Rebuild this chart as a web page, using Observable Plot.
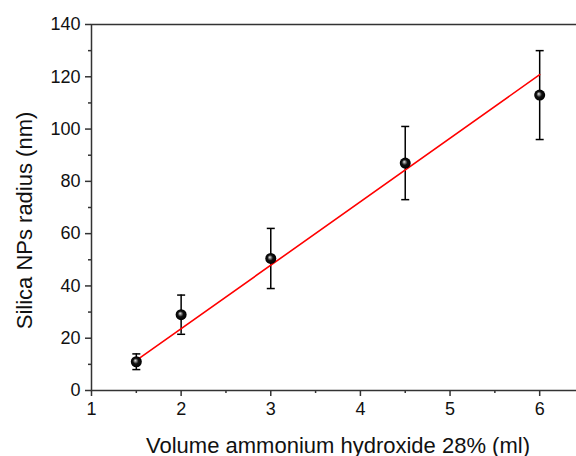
<!DOCTYPE html>
<html>
<head>
<meta charset="utf-8">
<script src="https://cdn.jsdelivr.net/npm/d3@7"></script>
<script src="https://cdn.jsdelivr.net/npm/@observablehq/plot@0.6"></script>
<style>
  html, body { margin: 0; padding: 0; background: #fff; overflow: hidden; }
  #chart svg { display: block; }
</style>
</head>
<body>
<div id="chart"></div>
<script>
// Data
const volume = [1.5, 2, 3, 4.5, 6];          // ml ammonium hydroxide 28%
const radius = [11, 29, 50.5, 87, 113];      // nm
const radiusErr = [3, 7.5, 11.5, 14, 17];    // nm (± error)
const fitX = [1.5, 6];                        // linear fit endpoints
const fitY = [11.5, 120.8];
const xMajorTicks = [1, 2, 3, 4, 5, 6];
const xMinorTicks = [1.5, 2.5, 3.5, 4.5, 5.5, 6.5];
const yMajorTicks = [0, 20, 40, 60, 80, 100, 120, 140];
const yMinorTicks = [10, 30, 50, 70, 90, 110, 130];

const points = volume.map((v, i) => ({x: v, y: radius[i], lo: radius[i] - radiusErr[i], hi: radius[i] + radiusErr[i]}));
const fit = fitX.map((v, i) => ({x: v, y: fitY[i]}));

const capSymbol = {
  draw(context, size) {
    const r = Math.sqrt(size / Math.PI);
    context.moveTo(-r, 0);
    context.lineTo(r, 0);
  }
};

const font = "'Liberation Sans', Arial, Helvetica, sans-serif";
const axisColor = "#333";

const chart = Plot.plot({
  width: 576,
  height: 456,
  marginLeft: 91,
  marginRight: -8,
  marginTop: 24,
  marginBottom: 66,
  style: {fontFamily: font, fontSize: "18px", color: "#111", background: "#fff"},
  x: {domain: [1, 6.5]},
  y: {domain: [0, 140]},
  marks: [
    Plot.axisX({ticks: xMinorTicks, tickSize: 3, text: null, label: null, stroke: axisColor, strokeWidth: 1.5}),
    Plot.axisX({ticks: xMajorTicks, tickSize: 6, tickPadding: 6, tickFormat: d => String(d), label: null, stroke: axisColor, strokeWidth: 1.5, fontSize: 18, fill: "#111"}),
    Plot.axisY({ticks: yMinorTicks, tickSize: 3, text: null, label: null, stroke: axisColor, strokeWidth: 1.5}),
    Plot.axisY({ticks: yMajorTicks, tickSize: 6, tickPadding: 5, tickFormat: d => String(d), label: null, stroke: axisColor, strokeWidth: 1.5, fontSize: 18, fill: "#111"}),
    Plot.frame({stroke: axisColor, strokeWidth: 1.5}),
    Plot.ruleX(points, {x: "x", y1: "lo", y2: "hi", stroke: "#000", strokeWidth: 1.5}),
    Plot.dot(points, {x: "x", y: "lo", symbol: capSymbol, r: 4, stroke: "#000", strokeWidth: 1.5, fill: "none"}),
    Plot.dot(points, {x: "x", y: "hi", symbol: capSymbol, r: 4, stroke: "#000", strokeWidth: 1.5, fill: "none"}),
    Plot.line(fit, {x: "x", y: "y", stroke: "#ff0000", strokeWidth: 1.6}),
    Plot.dot(points, {x: "x", y: "y", r: 5.5, fill: "url(#sphereGrad)", stroke: "none"}),
    Plot.text(["Volume ammonium hydroxide 28% (ml)"], {frameAnchor: "bottom", dy: 62, lineAnchor: "bottom", fontSize: 22, fill: "#111"}),
    Plot.text(["Silica NPs radius (nm)"], {frameAnchor: "left", textAnchor: "middle", dx: -60, dy: 13, rotate: -90, lineAnchor: "bottom", fontSize: 22, fill: "#111"})
  ]
});

const svg = chart.tagName.toLowerCase() === "svg" ? chart : chart.querySelector("svg");
const ns = "http://www.w3.org/2000/svg";
const defs = document.createElementNS(ns, "defs");
const grad = document.createElementNS(ns, "radialGradient");
grad.setAttribute("id", "sphereGrad");
grad.setAttribute("cx", "0.5");
grad.setAttribute("cy", "0.5");
grad.setAttribute("r", "0.5");
grad.setAttribute("fx", "0.4");
grad.setAttribute("fy", "0.38");
[["0", "#e8e8e8"], ["0.22", "#888"], ["0.5", "#111"], ["1", "#000"]].forEach(([o, c]) => {
  const s = document.createElementNS(ns, "stop");
  s.setAttribute("offset", o);
  s.setAttribute("stop-color", c);
  grad.appendChild(s);
});
defs.appendChild(grad);
svg.insertBefore(defs, svg.firstChild);

document.getElementById("chart").appendChild(chart);
</script>
</body>
</html>
